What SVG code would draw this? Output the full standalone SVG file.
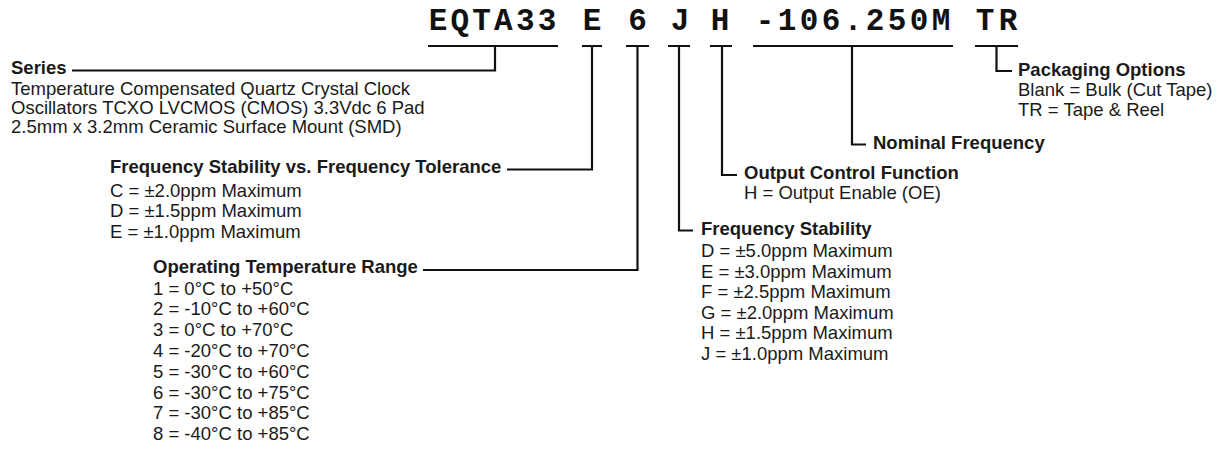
<svg xmlns="http://www.w3.org/2000/svg" width="1224" height="449" viewBox="0 0 1224 449">
<style>
.t{font-family:"Liberation Mono","Courier New",monospace;font-weight:bold;font-size:31px;fill:#111;text-anchor:middle}
.h{font-family:"Liberation Sans",Arial,sans-serif;font-weight:bold;font-size:18.5px;fill:#1a1a1a}
.b{font-family:"Liberation Sans",Arial,sans-serif;font-size:18.5px;fill:#1a1a1a}
.c{fill:none;stroke:#111;stroke-width:2.2;stroke-linejoin:miter;stroke-linecap:butt}
</style>
<rect width="1224" height="449" fill="#fff"/>
<g id="part-number">
<text class="t" x="438 459.8 481.6 503.4 525.2 547" y="30">EQTA33</text>
<text class="t" x="592" y="30">E</text>
<text class="t" x="637.5" y="30">6</text>
<text class="t" x="680" y="30">J</text>
<text class="t" x="720" y="30">H</text>
<text class="t" x="765 787 809 831 853 875 897 919 941" y="30">-106.250M</text>
<text class="t" x="985 1008" y="30">TR</text>
</g>
<g id="connectors" class="c">
<path d="M428,46H558M495,46V70.5H72"/>
<path d="M582,46H602M592,46V169.5H507"/>
<path d="M626,46H649M637.5,46V270H423"/>
<path d="M668,46H690M679,46V230.5H693"/>
<path d="M710,46H732M722,46V175H737"/>
<path d="M753,46H953M852,46V144.5H866"/>
<path d="M975,46H1018M996.5,46V71H1012"/>
</g>
<g id="series">
<text class="h" x="11" y="73.5">Series</text>
<text class="b" x="11" y="94.5">Temperature Compensated Quartz Crystal Clock</text>
<text class="b" x="11" y="113.5">Oscillators TCXO LVCMOS (CMOS) 3.3Vdc 6 Pad</text>
<text class="b" x="11" y="132.5">2.5mm x 3.2mm Ceramic Surface Mount (SMD)</text>
</g>
<g id="freq-tolerance">
<text class="h" x="110" y="173">Frequency Stability vs. Frequency Tolerance</text>
<text class="b" x="110" y="196.5">C = ±2.0ppm Maximum</text>
<text class="b" x="110" y="217">D = ±1.5ppm Maximum</text>
<text class="b" x="110" y="237.5">E = ±1.0ppm Maximum</text>
</g>
<g id="operating-temp">
<text class="h" x="153" y="273">Operating Temperature Range</text>
<text class="b" x="153" y="294.5">1 = 0°C to +50°C</text>
<text class="b" x="153" y="315.3">2 = -10°C to +60°C</text>
<text class="b" x="153" y="336.1">3 = 0°C to +70°C</text>
<text class="b" x="153" y="356.9">4 = -20°C to +70°C</text>
<text class="b" x="153" y="377.7">5 = -30°C to +60°C</text>
<text class="b" x="153" y="398.5">6 = -30°C to +75°C</text>
<text class="b" x="153" y="419.3">7 = -30°C to +85°C</text>
<text class="b" x="153" y="440">8 = -40°C to +85°C</text>
</g>
<g id="freq-stability">
<text class="h" x="701" y="235">Frequency Stability</text>
<text class="b" x="701" y="257">D = ±5.0ppm Maximum</text>
<text class="b" x="701" y="277.6">E = ±3.0ppm Maximum</text>
<text class="b" x="701" y="298.2">F = ±2.5ppm Maximum</text>
<text class="b" x="701" y="318.8">G = ±2.0ppm Maximum</text>
<text class="b" x="701" y="339.4">H = ±1.5ppm Maximum</text>
<text class="b" x="701" y="360">J = ±1.0ppm Maximum</text>
</g>
<g id="output-control">
<text class="h" x="744" y="178.5">Output Control Function</text>
<text class="b" x="744" y="198.5">H = Output Enable (OE)</text>
</g>
<g id="nominal-frequency">
<text class="h" x="873" y="148.5">Nominal Frequency</text>
</g>
<g id="packaging">
<text class="h" x="1018" y="75.5">Packaging Options</text>
<text class="b" x="1018" y="96">Blank = Bulk (Cut Tape)</text>
<text class="b" x="1018" y="115.5">TR = Tape &amp; Reel</text>
</g>
</svg>
